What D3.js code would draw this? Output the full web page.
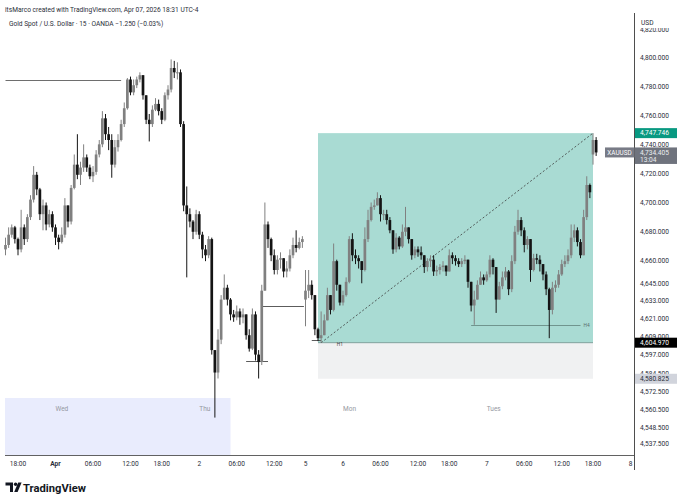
<!DOCTYPE html>
<html><head><meta charset="utf-8">
<script src="https://cdn.jsdelivr.net/npm/d3@7"></script>
<style>body{margin:0;background:#fff}svg{display:block}</style>
</head><body>
<svg id="c" width="680" height="500"></svg>
<script>
// ---- DATA (30-minute OHLC; open = previous close) ----
const closes = [4671,4678,4683,4675,4668,4683,4675,4690,4702,4719,
4709,4692,4698,4685,4692,4683,4676,4673,4678,4698,
4687,4710,4726,4719,4724,4731,4724,4718,4721,4733,
4740,4758,4747,4743,4726,4738,4743,4754,4765,4785,
4776,4781,4785,4788,4774,4757,4754,4764,4768,4763,
4757,4774,4778,4793,4790,4790,4754,4698,4692,4687,
4680,4692,4678,4668,4664,4675,4600,4585,4607,4634,
4642,4634,4624,4622,4626,4622,4624,4610,4601,4624,
4597,4592,4640,4685,4675,4664,4654,4661,4662,4653,
4655,4664,4671,4669,4673,4675,4640,4644,4637,4614,
4608,4610,4620,4637,4627,4660,4644,4632,4637,4646,
4675,4664,4662,4660,4654,4675,4688,4697,4698,4703,
4692,4692,4688,4681,4668,4676,4670,4680,4683,4675,
4664,4668,4666,4664,4656,4660,4661,4653,4654,4656,
4657,4653,4664,4662,4660,4658,4660,4661,4646,4630,
4634,4644,4649,4647,4651,4661,4656,4634,4643,4649,
4653,4641,4660,4680,4688,4681,4671,4675,4654,4662,
4661,4658,4651,4641,4627,4642,4644,4651,4658,4660,
4664,4676,4681,4673,4664,4690,4712,4707,4743,4734.405];
const highs = [4676,4683,4685,4684,4676,4695,4685,4692,4705,4725,
4721,4710,4702,4700,4695,4694,4685,4678,4683,4703,
4698,4712,4733,4747,4728,4740,4733,4726,4725,4736,
4743,4763,4761,4752,4747,4743,4747,4757,4769,4786,
4787,4785,4787,4790,4786,4774,4761,4767,4772,4771,
4765,4776,4781,4799,4798,4797,4792,4756,4711,4696,
4688,4695,4694,4680,4671,4677,4676,4597,4614,4637,
4651,4644,4635,4627,4630,4628,4628,4622,4614,4628,
4626,4600,4644,4700,4687,4676,4668,4664,4666,4662,
4660,4668,4676,4681,4676,4677,4654,4654,4647,4637,
4615,4626,4624,4642,4637,4672,4661,4644,4640,4649,
4677,4679,4668,4664,4660,4683,4695,4700,4702,4707,
4705,4695,4695,4690,4681,4679,4677,4685,4697,4683,
4675,4670,4670,4670,4664,4662,4664,4664,4657,4658,
4660,4657,4668,4666,4664,4662,4662,4664,4661,4644,
4640,4647,4653,4651,4653,4664,4662,4656,4646,4653,
4656,4654,4664,4684,4695,4690,4683,4677,4675,4665,
4665,4664,4658,4653,4642,4646,4647,4654,4661,4664,
4668,4685,4685,4683,4675,4695,4718,4713,4747.746,4745];
const lows = [4664,4669,4676,4672,4664,4666,4671,4673,4688,4700,
4705,4688,4681,4681,4683,4680,4671,4668,4672,4676,
4683,4685,4709,4716,4712,4721,4721,4716,4714,4719,
4731,4738,4743,4736,4717,4724,4735,4742,4752,4764,
4774,4774,4779,4783,4771,4754,4742,4752,4763,4760,
4754,4756,4771,4776,4786,4785,4752,4694,4649,4683,
4675,4678,4675,4662,4660,4662,4597,4555,4581,4604,
4634,4630,4620,4619,4620,4617,4618,4607,4599,4600,
4593,4581,4590,4640,4669,4660,4651,4651,4655,4649,
4649,4653,4662,4666,4668,4669,4616,4635,4634,4610,
4606,4604.97,4614,4620,4624,4626,4640,4630,4630,4636,
4645,4660,4658,4655,4645,4653,4673,4687,4695,4699,
4687,4688,4685,4679,4665,4666,4668,4669,4677,4672,
4661,4662,4663,4661,4652,4653,4656,4650,4650,4651,
4653,4650,4654,4658,4657,4656,4656,4658,4642,4626,
4617,4634,4644,4644,4646,4649,4651,4625,4635,4641,
4647,4637,4639,4658,4678,4677,4666,4668,4646,4653,
4658,4653,4647,4637,4608,4624,4639,4642,4650,4656,
4658,4662,4673,4670,4662,4664,4688,4703,4726,4732];
const firstOpen = 4668;
const sessionOpens = {96: 4634, 188: 4733};

// trading sessions (time axis skips breaks and the Easter weekend)
const sessions = [["2026-03-31T15:00","2026-03-31T17:00"],["2026-03-31T18:00","2026-04-01T17:00"],
["2026-04-01T18:00","2026-04-02T17:00"],["2026-04-05T18:00","2026-04-06T17:00"],
["2026-04-06T18:00","2026-04-07T17:00"],["2026-04-07T18:00","2026-04-08T17:00"]];

const priceTicks = [4820,4800,4780,4760,4740,4720,4700,4680,4660,4645,4633,4621,4609,4597,4584.5,4572.5,4560.5,4548.5,4537.5];
const timeTicks = [["2026-03-31T18:00","18:00"],["2026-04-01T00:00","Apr"],["2026-04-01T06:00","06:00"],
["2026-04-01T12:00","12:00"],["2026-04-01T18:00","18:00"],["2026-04-02T00:00","2"],["2026-04-02T06:00","06:00"],
["2026-04-02T12:00","12:00"],["2026-04-05T18:00","5"],["2026-04-06T00:00","6"],["2026-04-06T06:00","06:00"],
["2026-04-06T12:00","12:00"],["2026-04-06T18:00","18:00"],["2026-04-07T00:00","7"],["2026-04-07T06:00","06:00"],
["2026-04-07T12:00","12:00"],["2026-04-07T18:00","18:00"],["2026-04-08T00:00","8"]];
const boldTicks = ["Apr"];

const dayLabels = [["2026-04-01T00:00","Wed"],["2026-04-02T00:00","Thu"],["2026-04-06T00:00","Mon"],["2026-04-07T00:00","Tues"]];

const levelLines = [
  {price:4784.6, start:"2026-03-31T15:00", end:"2026-04-01T10:30", color:"#5d5d5d"},
  {price:4629.7, start:"2026-04-02T10:00", end:"2026-04-02T16:45", color:"#4a4a4a"},
  {price:4592.7, start:"2026-04-02T07:30", end:"2026-04-02T11:00", color:"#4a4a4a"},
  {price:4606.8, start:"2026-04-05T19:00", end:"2026-04-05T20:30", color:"#4a4a4a"},
  {price:4616.9, start:"2026-04-06T21:30", end:"2026-04-07T15:00", color:"#6a8c86", label:"H4"}
];
const rangeHigh = 4747.746, rangeLow = 4604.970, rangeStop = 4580.825;
const rangeStart = "2026-04-05T20:00", rangeEnd = "2026-04-07T18:00";
const trendFrom = ["2026-04-05T20:30", 4604.970], trendTo = ["2026-04-07T18:00", 4747.746];
const sessionBox = {start:"2026-03-31T15:00", end:"2026-04-02T05:00", top:4568};

// ---- helpers ----
const T = s => new Date(s + "Z").getTime();
function hoursOf(s){
  const t = T(s); let cum = 0;
  for (const [a,b] of sessions){
    const ta=T(a), tb=T(b);
    if (t < ta) return cum;
    if (t <= tb) return cum + (t-ta)/36e5;
    cum += (tb-ta)/36e5;
  }
  return cum;
}
const fmtT = d => d.toISOString().slice(0,16);
const bars = [];
outer: for (const [a,b] of sessions){
  for (let t=T(a); t<T(b); t+=30*60e3){
    if (bars.length >= closes.length) break outer;
    const i = bars.length;
    const o = i===0 ? firstOpen : (sessionOpens[i] !== undefined ? sessionOpens[i] : closes[i-1]);
    const c = closes[i];
    bars.push({t: fmtT(new Date(t)), o, c, h: Math.max(highs[i],o,c), l: Math.min(lows[i],o,c)});
  }
}

const W=680, H=500, axisX=634, paneTop=13, paneBottom=455.5;
const x = d3.scaleLinear().domain([0,100]).range([5.5,630.5]);
const y = d3.scaleLog().domain([4537.5,4800]).range([444,58]);
const xt = s => x(hoursOf(s));

const svg = d3.select("#c");
const FONT = "Roboto, 'Noto Sans', 'DejaVu Sans', sans-serif";
svg.append("rect").attr("width",W).attr("height",H).attr("fill","#fff");
svg.append("clipPath").attr("id","pane").append("rect")
  .attr("x",0).attr("y",paneTop).attr("width",axisX).attr("height",paneBottom-paneTop);
const g = svg.append("g").attr("clip-path","url(#pane)");

// session box (lavender)
g.append("rect").attr("x",xt(sessionBox.start)-0.5).attr("y",y(sessionBox.top))
  .attr("width",xt(sessionBox.end)-xt(sessionBox.start)+0.5).attr("height",paneBottom-y(sessionBox.top))
  .attr("fill","#e9ecfd");

// day labels
g.selectAll(".day").data(dayLabels).join("text")
  .attr("x",d=>xt(d[0])).attr("y",410.5).text(d=>d[1])
  .attr("font-family",FONT).attr("font-size",6.5).attr("fill","#9598a1");

// position boxes
const rx0 = xt(rangeStart), rx1 = xt(rangeEnd);
g.append("rect").attr("x",rx0).attr("y",y(rangeHigh)).attr("width",rx1-rx0)
  .attr("height",y(rangeLow)-y(rangeHigh)).attr("fill","rgba(8,153,129,0.35)");
g.append("rect").attr("x",rx0).attr("y",y(rangeLow)).attr("width",rx1-rx0)
  .attr("height",y(rangeStop)-y(rangeLow)).attr("fill","rgba(120,123,134,0.11)");
g.append("line").attr("x1",rx0).attr("x2",rx1).attr("y1",y(rangeLow)).attr("y2",y(rangeLow))
  .attr("stroke","#6d8f8a").attr("stroke-width",0.8);
g.append("text").attr("x",xt("2026-04-05T23:00")).attr("y",y(rangeLow)+3.2).text("H1")
  .attr("font-family",FONT).attr("font-size",4.8).attr("fill","#444");

// level lines
levelLines.forEach(L=>{
  g.append("line").attr("x1",xt(L.start)).attr("x2",xt(L.end)).attr("y1",Math.round(y(L.price))+0.5)
   .attr("y2",Math.round(y(L.price))+0.5).attr("stroke",L.color).attr("stroke-width",0.9);
  if (L.label) g.append("text").attr("x",xt(L.end)+3).attr("y",y(L.price)+2).text(L.label)
   .attr("font-family",FONT).attr("font-size",4.8).attr("fill","#5a6e6b");
});

// trend dashed line
g.append("line").attr("x1",xt(trendFrom[0])).attr("y1",y(trendFrom[1]))
  .attr("x2",xt(trendTo[0])).attr("y2",y(trendTo[1]))
  .attr("stroke","#3c3c3c").attr("stroke-width",0.8).attr("stroke-dasharray","2,2");

// candles
const UP="#808080", DN="#141414";
const cg = g.append("g");
cg.selectAll(".w").data(bars).join("line")
  .attr("x1",d=>xt(d.t)).attr("x2",d=>xt(d.t)).attr("y1",d=>y(d.h)).attr("y2",d=>y(d.l))
  .attr("stroke",d=>d.c>=d.o?UP:DN).attr("stroke-width",1);
cg.selectAll(".b").data(bars).join("rect")
  .attr("x",d=>xt(d.t)-1.35).attr("width",2.7)
  .attr("y",d=>y(Math.max(d.o,d.c))).attr("height",d=>Math.max(1,y(Math.min(d.o,d.c))-y(Math.max(d.o,d.c))))
  .attr("fill",d=>d.c>=d.o?UP:DN);

// axes lines
svg.append("line").attr("x1",5).attr("x2",axisX).attr("y1",paneBottom).attr("y2",paneBottom)
  .attr("stroke","#3a3a3a").attr("stroke-width",0.8);
svg.append("line").attr("x1",axisX+0.5).attr("x2",axisX+0.5).attr("y1",paneTop).attr("y2",470)
  .attr("stroke","#3a3a3a").attr("stroke-width",0.9);

// price axis labels
const fmtP = d3.format(",.3f");
const ya = svg.append("g");
ya.selectAll("text").data(priceTicks).join("text")
  .attr("x",640).attr("y",d=>y(d)+2.3).text(d=>fmtP(d))
  .attr("font-family",FONT).attr("font-size",6.6).attr("fill","#2a2e39");
// USD header hides the clipped top label
svg.append("rect").attr("x",axisX+1).attr("y",paneTop).attr("width",W-axisX-1).attr("height",15).attr("fill","#fff");
svg.append("text").attr("x",641).attr("y",25).text("USD")
  .attr("font-family",FONT).attr("font-size",6.6).attr("fill","#2a2e39");

// price labels
function tag(price, fill, txtFill, text2){
  const yy = y(price);
  const hgt = text2 ? 16.5 : 10;
  svg.append("rect").attr("x",axisX+1).attr("y",yy-5).attr("width",42).attr("height",hgt).attr("fill",fill);
  svg.append("text").attr("x",640).attr("y",yy+2.3).text(fmtP(price))
    .attr("font-family",FONT).attr("font-size",6.6).attr("fill",txtFill);
  if (text2) svg.append("text").attr("x",640).attr("y",yy+9.3).text(text2)
    .attr("font-family",FONT).attr("font-size",6.6).attr("fill",txtFill);
}
tag(rangeHigh, "#089981", "#ffffff");
tag(rangeLow, "#000000", "#ffffff");
tag(rangeStop, "#d1d4dc", "#2a2e39");
const last = closes[closes.length-1];
tag(last, "#6f737d", "#eceef2", "13:04");
svg.append("rect").attr("x",605).attr("y",y(last)-5).attr("width",29.5).attr("height",10).attr("fill","#787b86");
svg.append("text").attr("x",619.5).attr("y",y(last)+2.3).attr("text-anchor","middle").text("XAUUSD")
  .attr("font-family",FONT).attr("font-size",6.4).attr("fill","#ffffff");

// time axis labels
svg.append("g").selectAll("text").data(timeTicks).join("text")
  .attr("x",d=>xt(d[0])).attr("y",465.5).attr("text-anchor","middle").text(d=>d[1])
  .attr("font-family",FONT).attr("font-size",6.6).attr("fill","#2a2e39")
  .attr("font-weight",d=>boldTicks.includes(d[1])?"bold":"normal");

// title
svg.append("text").attr("x",5).attr("y",11.5).text("itsMarco created with TradingView.com, Apr 07, 2026 18:31 UTC-4")
  .attr("font-family",FONT).attr("font-size",6.6).attr("fill","#2a2e39");
svg.append("text").attr("x",9).attr("y",26).text("Gold Spot / U.S. Dollar · 15 · OANDA  \u22121.250 (\u22120.03%)")
  .attr("font-family",FONT).attr("font-size",6.6).attr("fill","#2a2e39");

// TradingView logo
const lg = svg.append("g").attr("fill","#131722");
lg.append("path").attr("d","M5.5,482.5 H13 V492 H10 V485.6 H5.5 Z");
lg.append("circle").attr("cx",15.6).attr("cy",484.2).attr("r",1.7);
lg.append("path").attr("d","M18.2,482.5 H21.6 L17.6,492 H14.2 Z");
svg.append("text").attr("x",23).attr("y",491.8).text("TradingView")
  .attr("font-family",FONT).attr("font-size",11.2).attr("font-weight","bold").attr("fill","#131722");
</script>
</body></html>
